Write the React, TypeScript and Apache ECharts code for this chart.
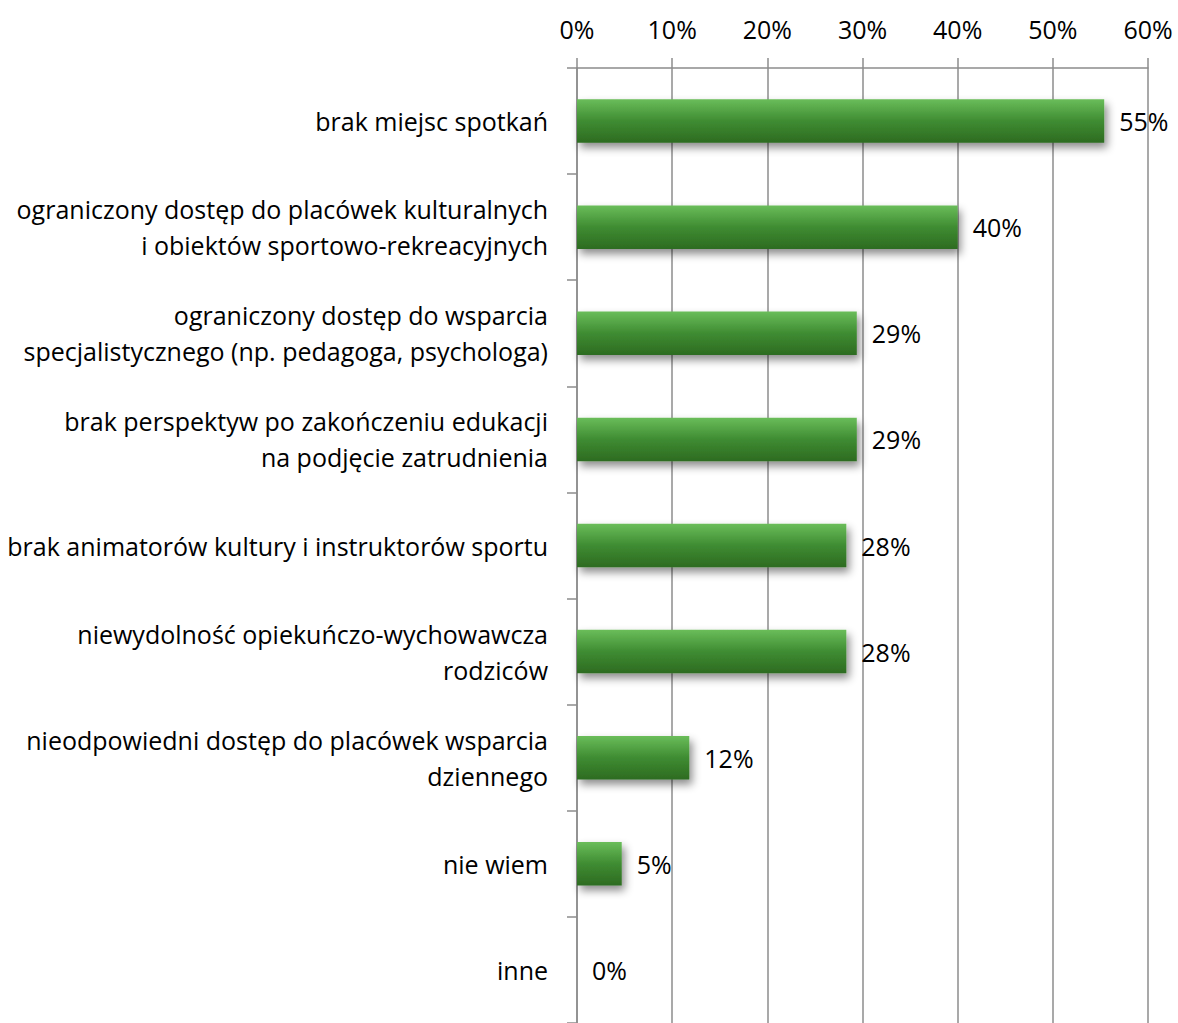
import React, { useEffect, useRef } from "react";
import * as echarts from "echarts";

const categories = [
  "brak miejsc spotkań",
  "ograniczony dostęp do placówek kulturalnych\ni obiektów sportowo-rekreacyjnych",
  "ograniczony dostęp do wsparcia\nspecjalistycznego (np. pedagoga, psychologa)",
  "brak perspektyw po zakończeniu edukacji\nna podjęcie zatrudnienia",
  "brak animatorów kultury i instruktorów sportu",
  "niewydolność opiekuńczo-wychowawcza\nrodziców",
  "nieodpowiedni dostęp do placówek wsparcia\ndziennego",
  "nie wiem",
  "inne",
];
const values = [55.4, 40.0, 29.4, 29.4, 28.3, 28.3, 11.8, 4.7, 0];
const axisMax = 60;
const axisStep = 10;

const FONT = "'Open Sans', 'Noto Sans', sans-serif";

export default function App() {
  const ref = useRef<HTMLDivElement>(null);
  useEffect(() => {
    if (!ref.current) return;
    const chart = echarts.init(ref.current, undefined, { renderer: "svg" });
    chart.setOption({
      animation: false,
      textStyle: { fontFamily: FONT },
      grid: { left: 577, right: 30, top: 68, bottom: -7, containLabel: false },
      xAxis: {
        type: "value",
        position: "top",
        min: 0,
        max: axisMax,
        interval: axisStep,
        axisLine: { show: true, lineStyle: { color: "#8c8c8c", width: 1.5 } },
        axisTick: { show: true, length: 10, lineStyle: { color: "#8c8c8c", width: 1.5 } },
        splitLine: { show: true, lineStyle: { color: "#8c8c8c", width: 1.5 } },
        axisLabel: {
          formatter: (v: number) => v + "%",
          fontSize: 25,
          color: "#000",
          fontFamily: FONT,
          margin: 27,
        },
      },
      yAxis: {
        type: "category",
        inverse: true,
        data: categories,
        axisLine: { show: true, lineStyle: { color: "#8c8c8c", width: 1.5 } },
        axisTick: { show: true, length: 10, lineStyle: { color: "#8c8c8c", width: 1.5 } },
        axisLabel: {
          fontSize: 25,
          lineHeight: 36,
          color: "#000",
          fontFamily: FONT,
          margin: 29,
          align: "right",
        },
      },
      series: [
        {
          type: "bar",
          data: values,
          barWidth: "41%",
          itemStyle: {
            color: new echarts.graphic.LinearGradient(0, 0, 0, 1, [
              { offset: 0, color: "#6abd5a" },
              { offset: 0.5, color: "#3f8c32" },
              { offset: 1, color: "#2d6b21" },
            ]),
            shadowColor: "rgba(0,0,0,0.45)",
            shadowBlur: 8,
            shadowOffsetX: 3,
            shadowOffsetY: 5,
          },
          label: {
            show: true,
            position: "right",
            distance: 15,
            fontSize: 25,
            color: "#000",
            fontFamily: FONT,
            formatter: (p: any) => Math.round(p.value) + "%",
          },
        },
      ],
    });
    return () => chart.dispose();
  }, []);
  return (
    <div
      ref={ref}
      style={{ position: "fixed", left: 0, top: 0, width: 1178, height: 1023, background: "#fff" }}
    />
  );
}
